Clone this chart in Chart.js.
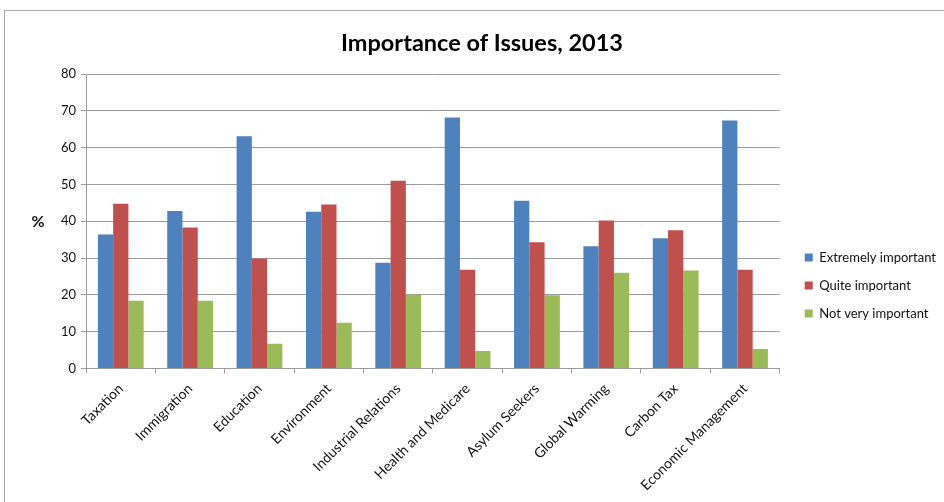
<!DOCTYPE html>
<html lang="en">
<head>
    <meta charset="UTF-8">
    <title>Importance of Issues, 2013</title>
    <script src="https://cdn.jsdelivr.net/npm/chart.js"></script>
    <style>
        body { margin: 0; background: #fff; overflow: hidden; }
        .frame {
            position: absolute; left: 4px; top: 10px; width: 960px; height: 520px;
            border-top: 1px solid #a8a8a8; border-left: 1px solid #a8a8a8;
        }
        #issuesChart { position: absolute; left: 0; top: 0; }
    </style>
</head>
<body>
    <div class="frame"></div>
    <canvas id="issuesChart" width="944" height="502"></canvas>

    <script>
        // Survey results, percent of respondents
        const issues = ['Taxation', 'Immigration', 'Education', 'Environment', 'Industrial Relations',
            'Health and Medicare', 'Asylum Seekers', 'Global Warming', 'Carbon Tax', 'Economic Management'];
        const extremelyImportant = [36.4, 42.8, 63.1, 42.6, 28.7, 68.2, 45.6, 33.2, 35.4, 67.4];
        const quiteImportant = [44.8, 38.3, 29.9, 44.6, 51.0, 26.8, 34.3, 40.2, 37.6, 26.8];
        const notVeryImportant = [18.4, 18.4, 6.7, 12.4, 20.0, 4.7, 19.9, 26.0, 26.6, 5.3];
        const yTicks = [0, 10, 20, 30, 40, 50, 60, 70, 80];

        const FONT = 'Lato, "DejaVu Sans", sans-serif';
        const gridColor = '#9c9c9c';

        // "%" axis caption, drawn upright beside the value axis
        const percentLabel = {
            id: 'percentLabel',
            afterDraw(chart) {
                const { ctx, chartArea } = chart;
                ctx.save();
                ctx.font = 'bold 16px ' + FONT;
                ctx.fillStyle = '#111';
                ctx.textAlign = 'center';
                ctx.textBaseline = 'middle';
                ctx.fillText('%', 38, (chartArea.top + chartArea.bottom) / 2 + 1);
                ctx.restore();
            }
        };

        // move the title left and the legend block right and down
        const blockNudge = {
            id: 'blockNudge',
            afterLayout(chart) {
                const lg = chart.legend;
                const dx = 10, dy = 35;
                lg.left += dx; lg.right += dx;
                lg.top += dy; lg.bottom += dy;
                const tb = chart.titleBlock;
                tb.left -= 14; tb.right -= 14;
            }
        };

        const ctx = document.getElementById('issuesChart').getContext('2d');
        const issuesChart = new Chart(ctx, {
            type: 'bar',
            data: {
                labels: issues,
                datasets: [
                    { label: 'Extremely important', data: extremelyImportant, backgroundColor: '#4f81bd' },
                    { label: 'Quite important', data: quiteImportant, backgroundColor: '#c0504d' },
                    { label: 'Not very important', data: notVeryImportant, backgroundColor: '#9bbb59' }
                ]
            },
            options: {
                responsive: false,
                animation: false,
                layout: { padding: { left: 56, right: 8, top: 0, bottom: 1 } },
                datasets: {
                    bar: { categoryPercentage: 0.66, barPercentage: 1.0 }
                },
                plugins: {
                    title: {
                        display: true,
                        text: 'Importance of Issues, 2013',
                        color: '#000',
                        font: { family: FONT, size: 23.5, weight: 'bold' },
                        padding: { top: 29, bottom: 17 }
                    },
                    legend: {
                        position: 'right',
                        labels: {
                            color: '#111',
                            font: { family: FONT, size: 13 },
                            boxWidth: 8,
                            boxHeight: 8,
                            padding: 15
                        }
                    },
                    tooltip: { enabled: false }
                },
                scales: {
                    x: {
                        grid: {
                            drawOnChartArea: false,
                            color: gridColor,
                            tickLength: 5,
                            offset: true
                        },
                        border: { color: gridColor },
                        ticks: {
                            color: '#111',
                            font: { family: FONT, size: 14 },
                            autoSkip: false,
                            minRotation: 45,
                            maxRotation: 45,
                            padding: 7
                        }
                    },
                    y: {
                        min: 0,
                        max: 80,
                        afterBuildTicks(scale) {
                            scale.ticks = yTicks.map(v => ({ value: v }));
                        },
                        grid: { color: gridColor, tickLength: 5 },
                        border: { color: gridColor },
                        ticks: {
                            color: '#111',
                            font: { family: FONT, size: 13 },
                            padding: 5
                        }
                    }
                }
            },
            plugins: [percentLabel, blockNudge]
        });
    </script>
</body>
</html>
